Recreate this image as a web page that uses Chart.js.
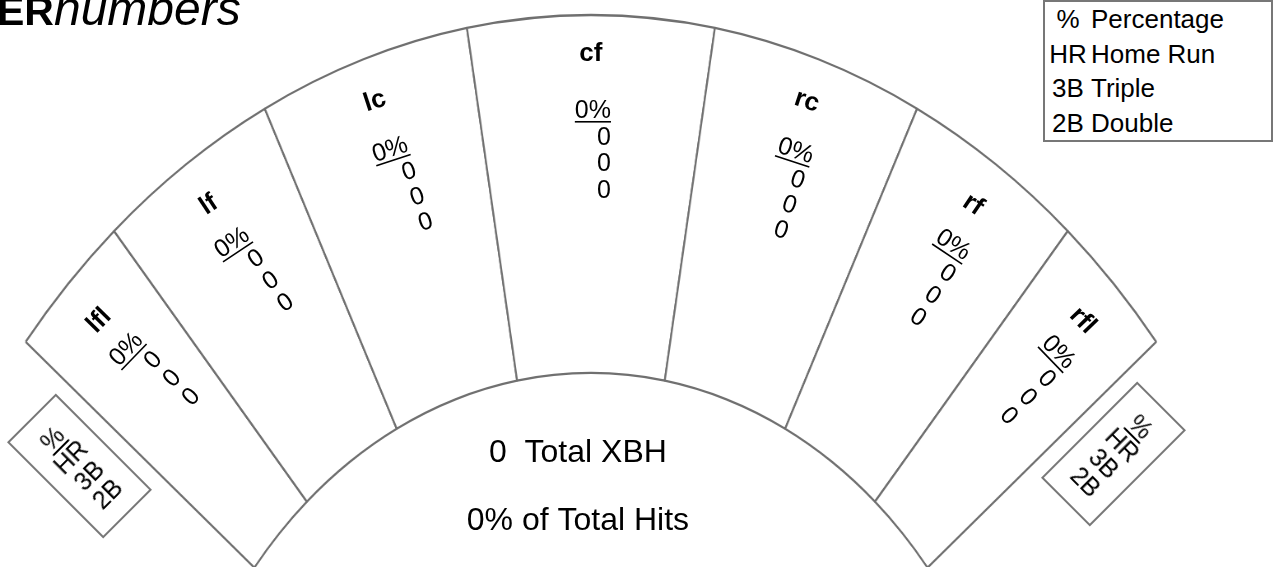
<!DOCTYPE html>
<html>
<head>
<meta charset="utf-8">
<script src="https://cdn.jsdelivr.net/npm/chart.js@4.4.1/dist/chart.umd.min.js"></script>
<style>
  body { margin: 0; background: #fff; overflow: hidden; font-family: "Liberation Sans", Arial, sans-serif; color: #000; }
  #wrap { position: relative; width: 1279px; height: 567px; overflow: hidden; }
  #field, #words { position: absolute; left: 0; top: 0; }
  #title { position: absolute; left: -3px; top: -15px; font-size: 48px; line-height: 48px; white-space: nowrap; }
  #title b { font-size: 41px; }
  #legend { position: absolute; left: 1043px; top: 0; width: 230px; height: 142px; box-sizing: border-box;
            border: 2px solid #777; font-size: 26px; background: #fff; }
  #legend .row { height: 34.5px; line-height: 34.5px; display: flex; white-space: nowrap; }
  #legend .abbr { width: 42px; margin-left: 2px; text-align: center; }
  #legend .name { margin-left: 2px; }
  .key { position: absolute; width: 69px; height: 136px; box-sizing: border-box; border: 2px solid #777; background: #fff;
         display: flex; flex-direction: column; justify-content: center; align-items: center;
         font-size: 25px; line-height: 26px; }
  .key u { text-underline-offset: 3px; }
</style>
</head>
<body>
<div id="wrap">
  <canvas id="field" width="1554" height="567"></canvas>
  <canvas id="words" width="1279" height="567"></canvas>
  <div id="title"><b>ER</b><i>numbers</i></div>
  <div id="legend"></div>
  <div class="key" id="keyLeft" style="left:45px; top:398px; transform:rotate(-45deg);"></div>
  <div class="key" id="keyRight" style="left:1079px; top:386px; transform:rotate(45deg);"></div>
</div>
<script>
// field zones, left field line to right field line
const zones = ['lfl', 'lf', 'lc', 'cf', 'rc', 'rf', 'rfl'];
// how much of the fan (degrees) each zone covers
const zoneArc = [10.0, 14.3, 16.8, 19.6, 16.8, 14.3, 10.0];
const pct = [0, 0, 0, 0, 0, 0, 0];
const homeRuns = [0, 0, 0, 0, 0, 0, 0];
const triples = [0, 0, 0, 0, 0, 0, 0];
const doubles = [0, 0, 0, 0, 0, 0, 0];
const totalXBH = 0;
const pctOfHits = 0;

const keyAbbr = ['%', 'HR', '3B', '2B'];
const keyName = ['Percentage', 'Home Run', 'Triple', 'Double'];

const lineColor = '#707070';
const font = '"Liberation Sans", Arial, sans-serif';
const squeeze = 0.823;   // the field is drawn narrower than it is tall

let fieldCanvas = document.getElementById('field');
fieldCanvas.style.transformOrigin = '0 0';
fieldCanvas.style.transform = 'scaleX(' + squeeze + ')';

// legend box top right
let legend = document.getElementById('legend');
keyAbbr.forEach((a, i) => {
    let row = document.createElement('div');
    row.className = 'row';
    let s1 = document.createElement('span');
    s1.className = 'abbr';
    s1.innerText = a;
    let s2 = document.createElement('span');
    s2.className = 'name';
    s2.innerText = keyName[i];
    row.appendChild(s1);
    row.appendChild(s2);
    legend.appendChild(row);
});

// the two little tilted keys
['keyLeft', 'keyRight'].forEach(id => {
    let box = document.getElementById(id);
    keyAbbr.forEach((a, i) => {
        let el = document.createElement(i == 0 ? 'u' : 'div');
        el.innerText = a;
        box.appendChild(el);
    });
});

// zone texts go on a second canvas that is not squeezed
const zoneText = {
    id: 'zoneText',
    afterDraw(chart) {
        const ctx = document.getElementById('words').getContext('2d');
        ctx.clearRect(0, 0, 1279, 567);
        ctx.fillStyle = '#000';
        const arcs = chart.getDatasetMeta(0).data;
        arcs.forEach((arc, i) => {
            const {x, y, startAngle, endAngle, outerRadius} =
                arc.getProps(['x', 'y', 'startAngle', 'endAngle', 'outerRadius'], true);
            const mid = (startAngle + endAngle) / 2;
            const dev = mid + Math.PI / 2;
            const degs = Math.abs(dev) * 180 / Math.PI;
            const labelR = outerRadius - 37 - 0.3 * degs;
            const blockR = outerRadius - 94;

            ctx.save();
            ctx.translate(squeeze * (x + labelR * Math.cos(mid)), y + labelR * Math.sin(mid));
            ctx.rotate(dev);
            ctx.font = 'bold 26px ' + font;
            ctx.textAlign = 'center';
            ctx.fillText(zones[i], 0, 9);
            ctx.restore();

            ctx.save();
            ctx.translate(squeeze * (x + blockR * Math.cos(mid)), y + blockR * Math.sin(mid));
            ctx.rotate(dev);
            ctx.font = '25px ' + font;
            const p = pct[i] + '%';
            const w = ctx.measureText(p).width;
            ctx.textAlign = 'center';
            ctx.fillText(p, 2, 9);
            ctx.fillRect(2 - w / 2, 12, w, 1.6);
            ctx.textAlign = 'right';
            [homeRuns[i], triples[i], doubles[i]].forEach((v, j) => {
                ctx.fillText(String(v), 2 + w / 2, 36 + 26.5 * j);
            });
            ctx.restore();
        });

        // infield text
        const a = arcs[0].getProps(['x', 'y', 'innerRadius'], true);
        ctx.font = '32px ' + font;
        ctx.textAlign = 'center';
        ctx.fillText(totalXBH + '  Total XBH', squeeze * a.x - 13, a.y - a.innerRadius + 89);
        ctx.fillText(pctOfHits + '% of Total Hits', squeeze * a.x - 13, a.y - a.innerRadius + 157);
    }
};

new Chart(fieldCanvas, {
    type: 'doughnut',
    data: {
        labels: zones,
        datasets: [{
            data: zoneArc,
            backgroundColor: '#ffffff',
            borderColor: lineColor,
            borderWidth: 2.3
        }]
    },
    options: {
        responsive: false,
        animation: false,
        events: [],
        rotation: -50.9,
        circumference: 101.8,
        radius: 885,
        cutout: '59.55%',
        layout: { padding: { left: 0, right: 118, top: 15.6, bottom: 0 } },
        plugins: {
            legend: { display: false },
            tooltip: { enabled: false }
        }
    },
    plugins: [zoneText]
});
</script>
</body>
</html>
